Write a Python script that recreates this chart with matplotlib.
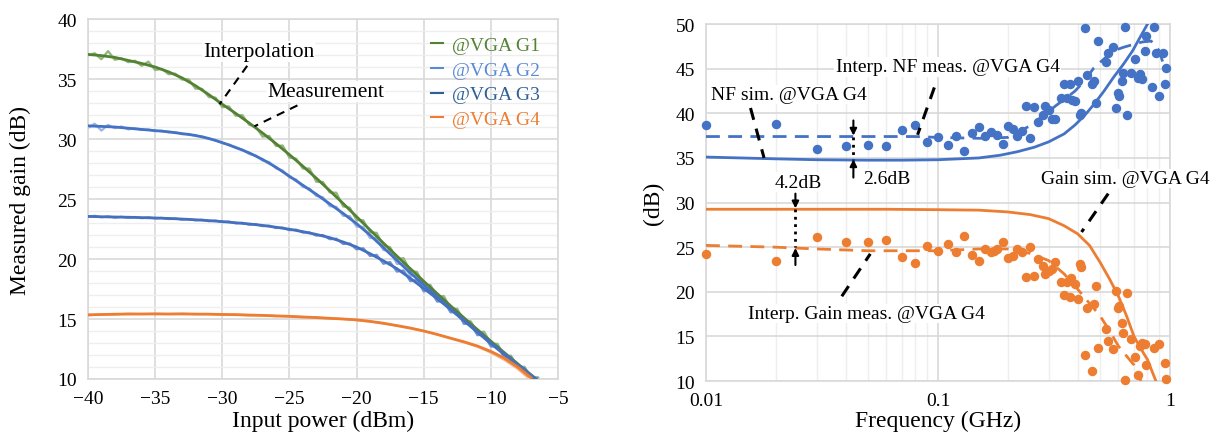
import numpy as np
import matplotlib
matplotlib.use('Agg')
import matplotlib.pyplot as plt
from matplotlib.lines import Line2D
from matplotlib.ticker import FixedLocator, NullFormatter

plt.rcParams['font.family'] = ['Liberation Serif', 'DejaVu Serif']

# ---------------- left panel: gain vs input power ----------------
p_int = [-40, -39, -38, -37, -36, -35, -34, -33, -32, -31, -30, -29, -28, -27, -26, -25, -24, -23,
         -22, -21, -20, -19, -18, -17, -16, -15, -14, -13, -12, -11, -10, -9, -8, -7, -6]
g1_int = [37.05, 36.95, 36.8, 36.55, 36.3, 36.0, 35.6, 35.1, 34.45, 33.7, 32.9, 32.14, 31.34, 30.5,
          29.62, 28.7, 27.74, 26.74, 25.7, 24.63, 23.53, 22.43, 21.33, 20.25, 19.2, 18.15, 17.12,
          16.1, 15.1, 14.12, 13.15, 12.2, 11.27, 10.35, 9.45]
g2_int = [31.1, 31.05, 31.0, 30.9, 30.8, 30.7, 30.6, 30.45, 30.3, 30.05, 29.7, 29.3, 28.85, 28.3,
          27.65, 26.9, 26.15, 25.4, 24.6, 23.8, 22.95, 22.0, 20.95, 19.9, 18.85, 17.85, 16.85,
          15.85, 14.9, 13.95, 13.0, 12.1, 11.2, 10.3, 9.4]
g3_int = [23.55, 23.52, 23.5, 23.48, 23.45, 23.42, 23.38, 23.33, 23.27, 23.2, 23.12, 23.02, 22.92,
          22.8, 22.65, 22.48, 22.28, 22.05, 21.78, 21.42, 21.0, 20.45, 19.85, 19.2, 18.4, 17.55,
          16.7, 15.8, 14.85, 13.9, 12.95, 12.05, 11.15, 10.25, 9.35]

p_g4 = [-40, -39, -38, -37, -36, -35, -34, -33, -32, -31, -30, -29, -28, -27, -26, -25, -24, -23,
        -22, -21, -20, -19, -18, -17, -16, -15, -14, -13, -12, -11, -10, -9, -8, -7]
g4_int = [15.35, 15.37, 15.4, 15.41, 15.42, 15.42, 15.42, 15.42, 15.41, 15.4, 15.38, 15.36, 15.33,
          15.3, 15.26, 15.22, 15.17, 15.12, 15.06, 15.0, 14.93, 14.8, 14.65, 14.45, 14.25, 14.0,
          13.72, 13.4, 13.1, 12.75, 12.3, 11.75, 11.0, 10.1]
g4_meas = [15.3, 15.4, 15.37, 15.45, 15.4, 15.45, 15.4, 15.45, 15.4, 15.42, 15.35, 15.38, 15.3,
           15.32, 15.24, 15.24, 15.15, 15.14, 15.03, 15.0, 14.9, 14.8, 14.62, 14.45, 14.22, 14.0,
           13.7, 13.4, 13.05, 12.7, 12.2, 11.6, 10.85, 9.9]

p_meas = [-40, -39.5, -39, -38.5, -38, -37.5, -37, -36.5, -36, -35.5, -35, -34.5, -34, -33.5, -33,
          -32.5, -32, -31.5, -31, -30.5, -30, -29.5, -29, -28.5, -28, -27.5, -27, -26.5, -26,
          -25.5, -25, -24.5, -24, -23.5, -23, -22.5, -22, -21.5, -21, -20.5, -20, -19.5, -19,
          -18.5, -18, -17.5, -17, -16.5, -16, -15.5, -15, -14.5, -14, -13.5, -13, -12.5, -12,
          -11.5, -11, -10.5, -10, -9.5, -9, -8.5, -8, -7.5, -7, -6.5, -6]
g1_meas = [36.95, 37.15, 36.65, 37.33, 36.6, 36.73, 36.4, 36.53, 36.1, 36.45, 35.75, 35.85, 35.4,
           35.45, 34.95, 34.98, 34.2, 34.18, 33.5, 33.45, 32.65, 32.72, 31.94, 31.99, 31.19, 31.02,
           30.2, 30.26, 29.42, 29.46, 28.45, 28.37, 27.54, 27.54, 26.44, 26.42, 25.55, 25.52, 24.38,
           24.28, 23.23, 23.23, 22.23, 22.18, 21.08, 20.99, 19.95, 20.08, 19.0, 18.93, 17.85, 17.84,
           16.87, 16.91, 15.9, 15.85, 14.8, 14.81, 13.87, 13.94, 12.95, 12.93, 11.9, 11.94, 11.02,
           11.01, 10.15, 10.15, 9.25]
g2_meas = [30.9, 31.28, 30.7, 31.18, 30.9, 31.05, 30.8, 30.9, 30.75, 30.8, 30.65, 30.7, 30.55, 30.58,
           30.4, 30.43, 30.25, 30.23, 30.0, 29.93, 29.65, 29.55, 29.25, 29.13, 28.75, 28.63, 28.2,
           28.08, 27.55, 27.38, 26.8, 26.63, 26.0, 25.88, 25.25, 25.15, 24.4, 24.35, 23.6, 23.58,
           22.7, 22.68, 21.75, 21.73, 20.75, 20.68, 19.6, 19.58, 18.6, 18.6, 17.55, 17.55, 16.6,
           16.65, 15.65, 15.63, 14.6, 14.63, 13.7, 13.78, 12.8, 12.8, 11.8, 11.85, 10.95, 11.0,
           10.1, 10.15, 9.2]
g3_meas = [23.5, 23.6, 23.48, 23.55, 23.45, 23.52, 23.44, 23.5, 23.4, 23.47, 23.38, 23.43, 23.33,
           23.38, 23.28, 23.33, 23.22, 23.27, 23.15, 23.2, 23.07, 23.12, 22.97, 23.02, 22.86, 22.9,
           22.74, 22.78, 22.58, 22.62, 22.4, 22.45, 22.2, 22.22, 21.95, 22.0, 21.65, 21.7, 21.25,
           21.3, 20.8, 20.9, 20.25, 20.35, 19.6, 19.75, 18.95, 19.05, 18.15, 18.25, 17.3, 17.4,
           16.45, 16.5, 15.55, 15.6, 14.6, 14.6, 13.65, 13.7, 12.7, 12.75, 11.8, 11.85, 10.9, 10.95,
           10.0, 10.05, 9.1]

legend_labels = ['@VGA G1', '@VGA G2', '@VGA G3', '@VGA G4']

# ---------------- right panel: NF / gain vs frequency ----------------
f_sim = [0.01, 0.02, 0.03, 0.05, 0.07, 0.1, 0.15, 0.185, 0.22, 0.26, 0.3, 0.35, 0.39, 0.43, 0.47,
         0.52, 0.57, 0.63, 0.69, 0.75, 0.8]
nf_sim = [35.1, 34.9, 34.8, 34.75, 34.75, 34.8, 35.0, 35.3, 35.7, 36.2, 36.8, 37.7, 38.7, 39.8,
          41.0, 42.5, 44.0, 45.5, 47.0, 48.7, 50.0]
f_nf_int = [0.01, 0.03, 0.06, 0.08, 0.1, 0.15, 0.2, 0.22, 0.25, 0.27, 0.3, 0.32, 0.36, 0.39, 0.43,
            0.47, 0.52, 0.57, 0.63, 0.69, 0.76, 0.83, 0.9, 0.95]
nf_int = [37.4, 37.4, 37.4, 37.4, 37.3, 37.2, 37.3, 37.9, 38.6, 39.3, 40.2, 40.8, 41.8, 42.5, 43.7,
          45.1, 46.1, 47.0, 47.4, 47.7, 48.0, 48.1, 47.0, 45.0]
f_g_sim = [0.01, 0.03, 0.06, 0.1, 0.15, 0.2, 0.25, 0.3, 0.35, 0.4, 0.45, 0.5, 0.55, 0.6, 0.65, 0.7,
           0.75, 0.8, 0.87]
g_sim = [29.25, 29.25, 29.25, 29.2, 29.15, 28.95, 28.65, 28.2, 27.4, 26.5, 25.2, 23.3, 21.4, 19.5,
         17.3, 15.0, 13.6, 12.4, 10.0]
f_g_int = [0.01, 0.02, 0.03, 0.05, 0.07, 0.1, 0.15, 0.2, 0.25, 0.3, 0.35, 0.4, 0.45, 0.5, 0.55, 0.6,
           0.65, 0.7, 0.75]
g_int = [25.2, 25.0, 24.8, 24.6, 24.6, 24.6, 24.8, 24.8, 24.3, 23.5, 22.0, 20.3, 18.7, 17.3, 15.6,
         13.9, 12.8, 11.8, 10.0]

f_nf_pts = [0.01, 0.02, 0.03, 0.04, 0.05, 0.06, 0.07, 0.08, 0.09, 0.10, 0.11, 0.12, 0.13, 0.14,
            0.15, 0.16, 0.17, 0.18, 0.19, 0.20, 0.21, 0.22, 0.23, 0.24, 0.25, 0.26, 0.27, 0.285,
            0.29, 0.30, 0.31, 0.32, 0.34, 0.35, 0.36, 0.37, 0.38, 0.39, 0.40, 0.41, 0.415, 0.43,
            0.44, 0.46, 0.47, 0.48, 0.49, 0.53, 0.54, 0.57, 0.585, 0.60, 0.605, 0.62, 0.63, 0.64,
            0.65, 0.68, 0.71, 0.73, 0.74, 0.76, 0.78, 0.79, 0.84, 0.85, 0.87, 0.90, 0.93, 0.95, 0.96]
nf_pts = [38.7, 38.8, 36.0, 36.3, 36.5, 36.3, 38.1, 38.7, 36.8, 37.4, 36.5, 37.5, 35.8, 37.8, 38.5,
          37.5, 37.9, 37.6, 36.6, 38.6, 38.3, 37.5, 38.0, 40.8, 37.2, 40.7, 39.0, 39.8, 40.8, 40.4,
          39.4, 39.4, 41.7, 43.3, 41.7, 43.3, 41.5, 41.4, 43.6, 39.8, 40.0, 49.6, 44.3, 43.3, 43.6,
          41.2, 48.1, 45.8, 46.8, 47.4, 40.6, 42.3, 41.9, 43.6, 44.5, 49.7, 39.8, 44.5, 46.1, 44.0,
          44.4, 43.8, 47.0, 48.7, 42.9, 49.7, 46.8, 41.9, 46.8, 43.3, 45.1]

f_g_pts = [0.01, 0.02, 0.03, 0.04, 0.05, 0.06, 0.07, 0.08, 0.09, 0.10, 0.11, 0.12, 0.13, 0.14, 0.15,
           0.16, 0.17, 0.175, 0.18, 0.19, 0.20, 0.21, 0.22, 0.23, 0.24, 0.25, 0.26, 0.27, 0.285,
           0.29, 0.30, 0.31, 0.32, 0.34, 0.35, 0.36, 0.37, 0.375, 0.39, 0.40, 0.41, 0.415, 0.43,
           0.44, 0.46, 0.47, 0.48, 0.49, 0.53, 0.54, 0.57, 0.585, 0.60, 0.605, 0.62, 0.63, 0.64,
           0.65, 0.68, 0.71, 0.73, 0.74, 0.76, 0.78, 0.79, 0.85, 0.90, 0.95, 0.96]
g_pts = [24.25, 23.5, 26.13, 25.56, 25.56, 25.83, 23.95, 23.23, 25.11, 24.62, 25.38, 24.51, 26.2,
         24.17, 23.5, 24.77, 24.44, 24.62, 24.81, 25.56, 23.76, 23.98, 24.81, 24.44, 21.62, 25.0,
         21.8, 23.65, 22.93, 21.99, 22.37, 22.56, 23.31, 21.13, 19.62, 21.05, 19.47, 21.5, 20.86,
         19.17, 23.12, 22.74, 12.86, 18.23, 11.09, 18.61, 20.68, 13.72, 15.79, 14.47, 13.61, 20.11,
         18.23, 18.42, 16.54, 15.41, 10.15, 19.92, 14.66, 12.71, 10.71, 13.91, 14.29, 14.1, 11.84,
         13.72, 14.1, 12.03, 10.23]

blue = '#4472C4'
orange = '#ED7D31'
grid_major = '#D9D9D9'
grid_minor = '#EEEEEE'

fig = plt.figure(figsize=(12.13, 4.39), dpi=100)
ax1 = fig.add_axes([0.0725, 0.1344, 0.3875, 0.82])
ax2 = fig.add_axes([0.582, 0.1298, 0.3825, 0.813])

# left panel: light measured traces under the interpolated curves
ax1.plot(p_meas, g1_meas, color='#93B57D', lw=1.6, zorder=2)
ax1.plot(p_meas, g2_meas, color='#9DB5E3', lw=1.6, zorder=2)
ax1.plot(p_meas, g3_meas, color='#6E93D2', lw=1.6, zorder=2)
ax1.plot(p_g4, g4_meas, color='#F5B08A', lw=1.6, zorder=2)
ax1.plot(p_int, g1_int, color='#548235', lw=2, zorder=3)
ax1.plot(p_int, g2_int, color=blue, lw=2, zorder=3)
ax1.plot(p_int, g3_int, color='#4470BF', lw=2, zorder=3)
ax1.plot(p_g4, g4_int, color=orange, lw=2, zorder=3)

ax1.set_xlim(-40, -5)
ax1.set_ylim(10, 40)
ax1.set_xticks(np.arange(-40, -4, 5))
ax1.set_yticks(np.arange(10, 41, 5))
ax1.yaxis.set_minor_locator(FixedLocator(np.arange(10, 41, 1)))
ax1.grid(True, which='major', color=grid_major, lw=1.2)
ax1.grid(True, which='minor', axis='y', color=grid_minor, lw=1.0)
ax1.set_axisbelow(True)
ax1.tick_params(which='both', length=0, labelsize=14, pad=8)
for s in ax1.spines.values():
    s.set_color(grid_major)
    s.set_linewidth(1.2)
ax1.set_xlabel('Input power (dBm)', fontsize=17)
ax1.set_ylabel('Measured gain (dB)', fontsize=17)
ax1.xaxis.set_label_coords(0.5, -0.085)
ax1.yaxis.set_label_coords(-0.122, 0.5)

leg_colors = ['#548235', '#5B8BD6', '#2E6095', orange]
handles = [Line2D([0], [0], color=c, lw=1.5) for c in leg_colors]
ax1.legend(handles, legend_labels, loc='upper right', bbox_to_anchor=(1.0, 1.0), frameon=False,
           fontsize=14, handlelength=0.6, handletextpad=0.5, labelspacing=0.36,
           labelcolor=leg_colors)

box = dict(facecolor='white', edgecolor='none', pad=1)
ax1.text(-27.3, 37.3, 'Interpolation', fontsize=15.5, ha='center', va='center', bbox=box, zorder=5)
ax1.text(-22.3, 33.95, 'Measurement', fontsize=15.5, ha='center', va='center', bbox=box, zorder=5)
ax1.plot([-28.14, -30.2], [36.1, 32.9], color='k', lw=1.5, ls=(0, (4, 3)), zorder=6)
ax1.plot([-24.4, -27.6], [32.8, 31.06], color='k', lw=1.5, ls=(0, (4, 3)), zorder=6)

# right panel
ax2.set_xscale('log')
ax2.plot(f_nf_pts, nf_pts, 'o', color=blue, ms=5.8, zorder=3, clip_on=False)
ax2.plot(f_g_pts, g_pts, 'o', color=orange, ms=5.8, zorder=3, clip_on=False)
ax2.plot(f_sim, nf_sim, color=blue, lw=2, zorder=4)
ax2.plot(f_nf_int, nf_int, color=blue, lw=2, ls=(0, (5, 3)), zorder=4)
ax2.plot(f_g_sim, g_sim, color=orange, lw=2, zorder=4)
ax2.plot(f_g_int, g_int, color=orange, lw=2, ls=(0, (5, 3)), zorder=4)

ax2.set_xlim(0.01, 1)
ax2.set_ylim(10, 50)
ax2.xaxis.set_major_locator(FixedLocator([0.01, 0.1, 1]))
ax2.set_xticklabels(['0.01', '0.1', '1'])
minor_f = [m * d for d in (0.01, 0.1) for m in range(2, 10)]
ax2.xaxis.set_minor_locator(FixedLocator(minor_f))
ax2.xaxis.set_minor_formatter(NullFormatter())
ax2.set_yticks(np.arange(10, 51, 5))
ax2.grid(True, which='major', color=grid_major, lw=1.2)
ax2.grid(True, which='minor', axis='x', color=grid_minor, lw=1.0)
ax2.set_axisbelow(True)
ax2.tick_params(which='both', length=0, labelsize=14, pad=8)
for s in ax2.spines.values():
    s.set_color(grid_major)
    s.set_linewidth(1.2)
ax2.set_xlabel('Frequency (GHz)', fontsize=17)
ax2.set_ylabel('(dB)', fontsize=17)
ax2.xaxis.set_label_coords(0.5, -0.08)
ax2.yaxis.set_label_coords(-0.09, 0.5)

lead = dict(color='k', lw=2.2, ls=(0, (4, 3)), zorder=6)
ax2.text(0.0227, 42.1, 'NF sim. @VGA G4', fontsize=14, ha='center', va='center', bbox=box, zorder=5)
ax2.plot([0.01556, 0.0178], [40.6, 35.0], **lead)
ax2.text(0.11, 45.2, 'Interp. NF meas. @VGA G4', fontsize=14, ha='center', va='center', bbox=box, zorder=5)
ax2.plot([0.0965, 0.0817], [42.9, 37.6], **lead)
ax2.text(0.643, 32.7, 'Gain sim. @VGA G4', fontsize=14, ha='center', va='center', bbox=box, zorder=5)
ax2.plot([0.542, 0.416], [31.0, 26.7], **lead)
ax2.text(0.0493, 17.56, 'Interp. Gain meas. @VGA G4', fontsize=14, ha='center', va='center', bbox=box, zorder=5)
ax2.plot([0.0385, 0.0511], [19.5, 24.25], **lead)

arrow = dict(arrowstyle='-|>', color='k', lw=1.5, mutation_scale=10, shrinkA=0, shrinkB=0)
# 2.6 dB gap
ax2.annotate('', xy=(0.0432, 37.5), xytext=(0.0432, 39.2), arrowprops=arrow, zorder=6)
ax2.plot([0.0432, 0.0432], [37.4, 34.8], color='k', lw=2, ls=':', zorder=6)
ax2.annotate('', xy=(0.0432, 34.85), xytext=(0.0432, 32.8), arrowprops=arrow, zorder=6)
ax2.text(0.0474, 32.7, '2.6dB', fontsize=14, ha='left', va='center', bbox=box, zorder=5)
# 4.2 dB gap
ax2.annotate('', xy=(0.0243, 29.35), xytext=(0.0243, 31.0), arrowprops=arrow, zorder=6)
ax2.plot([0.0243, 0.0243], [29.25, 25.0], color='k', lw=2, ls=':', zorder=6)
ax2.annotate('', xy=(0.0243, 24.9), xytext=(0.0243, 23.0), arrowprops=arrow, zorder=6)
ax2.text(0.025, 32.3, '4.2dB', fontsize=14, ha='center', va='center', bbox=box, zorder=5)

fig.savefig('out.png', dpi=100)
